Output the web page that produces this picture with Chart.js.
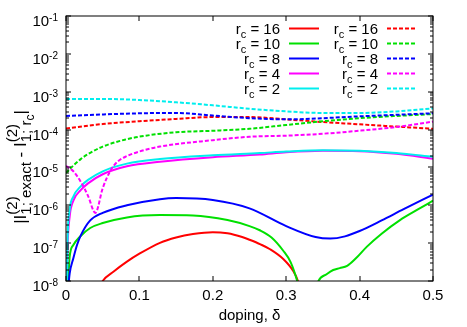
<!DOCTYPE html>
<html>
<head>
<meta charset="utf-8">
<script src="https://cdn.jsdelivr.net/npm/chart.js@4.4.1/dist/chart.umd.min.js"></script>
<style>
  html, body { margin: 0; padding: 0; background: #fff; }
  #wrap { width: 467px; height: 327px; }
</style>
</head>
<body>
<div id="wrap"><canvas id="chart" width="467" height="327"></canvas></div>
<script>
// values (doping vs |I_exact - I_rc|, log y)
const rcLabels = ["16", "10", "8", "4", "2"];
const lineColors = ["#ff0000", "#00e000", "#0000ff", "#ff00ff", "#00eeee"];
const xTicks = [0, 0.1, 0.2, 0.3, 0.4, 0.5];
const yTickExps = [-8, -7, -6, -5, -4, -3, -2, -1];

// solid curves
const rc16SolidX = [0.04, 0.05, 0.065, 0.083, 0.1, 0.128, 0.15, 0.173, 0.2, 0.22, 0.24, 0.25, 0.265, 0.278, 0.296, 0.31, 0.316, 0.325];
const rc16Solid = [3.98e-9, 1e-8, 1.78e-8, 3.24e-8, 5.25e-8, 1.02e-7, 1.41e-7, 1.74e-7, 1.95e-7, 1.82e-7, 1.45e-7, 1.23e-7, 9.3e-8, 6.9e-8, 3.8e-8, 1.78e-8, 1e-8, 2.5e-9];

const rc10SolidX = [0.002, 0.005, 0.01, 0.019, 0.033, 0.05, 0.083, 0.128, 0.173, 0.22, 0.25, 0.264, 0.28, 0.296, 0.306, 0.315, 0.325, 0.335, 0.344, 0.355, 0.364, 0.373, 0.383, 0.395, 0.41, 0.43, 0.455, 0.48, 0.5];
const rc10Solid = [3.98e-9, 4.37e-8, 8.9e-8, 1.48e-7, 2.51e-7, 3.39e-7, 4.79e-7, 5.5e-7, 5.37e-7, 4.07e-7, 2.82e-7, 2.19e-7, 1.41e-7, 6.3e-8, 3.16e-8, 1e-8, 1.6e-9, 2.5e-9, 1e-8, 1.51e-8, 1.95e-8, 2.19e-8, 2.51e-8, 3.98e-8, 8.1e-8, 1.78e-7, 4.07e-7, 7.9e-7, 1.32e-6];

const rc8SolidX = [0.002, 0.005, 0.01, 0.015, 0.02, 0.033, 0.05, 0.083, 0.128, 0.15, 0.2, 0.25, 0.3, 0.34, 0.36, 0.38, 0.4, 0.43, 0.46, 0.5];
const rc8Solid = [3.98e-9, 1.58e-8, 3.98e-8, 8.9e-8, 1.58e-7, 3.98e-7, 6.3e-7, 1e-6, 1.45e-6, 1.55e-6, 1.38e-6, 8.3e-7, 2.82e-7, 1.45e-7, 1.32e-7, 1.51e-7, 2.09e-7, 3.98e-7, 7.9e-7, 1.91e-6];

const rc4SolidX = [0.001, 0.002, 0.005, 0.01, 0.02, 0.03, 0.05, 0.083, 0.128, 0.2, 0.264, 0.3, 0.35, 0.4, 0.45, 0.5];
const rc4Solid = [3.98e-9, 6.3e-8, 5e-7, 1.32e-6, 2.51e-6, 3.8e-6, 6.6e-6, 1.07e-5, 1.41e-5, 1.86e-5, 2.19e-5, 2.51e-5, 2.75e-5, 2.69e-5, 2.29e-5, 1.7e-5];

const rc2SolidX = [0.001, 0.002, 0.005, 0.01, 0.02, 0.03, 0.05, 0.083, 0.128, 0.2, 0.264, 0.3, 0.35, 0.4, 0.45, 0.5];
const rc2Solid = [3.98e-9, 1e-7, 7.6e-7, 1.7e-6, 3.16e-6, 4.68e-6, 7.9e-6, 1.26e-5, 1.66e-5, 2.09e-5, 2.4e-5, 2.63e-5, 2.85e-5, 2.75e-5, 2.4e-5, 1.91e-5];

// dashed curves
const coarseX = [0, 0.05, 0.1, 0.15, 0.2, 0.25, 0.3, 0.35, 0.4, 0.45, 0.5];
const rc16Dashed = [1.07e-4, 1.4e-4, 1.66e-4, 1.91e-4, 2.14e-4, 2.14e-4, 1.86e-4, 1.58e-4, 1.38e-4, 1.2e-4, 1.05e-4];
const rc8Dashed = [2.29e-4, 2.51e-4, 2.69e-4, 2.75e-4, 2.34e-4, 2e-4, 1.86e-4, 2e-4, 2.24e-4, 2.45e-4, 2.69e-4];
const rc2Dashed = [6.46e-4, 6.46e-4, 6.03e-4, 5.25e-4, 4.37e-4, 3.55e-4, 3.02e-4, 2.75e-4, 2.75e-4, 3.02e-4, 3.63e-4];

const rc10DashedX = [0, 0.01, 0.02, 0.03, 0.05, 0.08, 0.1, 0.15, 0.2, 0.25, 0.3, 0.35, 0.4, 0.45, 0.5];
const rc10Dashed = [7.1e-6, 1.12e-5, 1.66e-5, 2.24e-5, 3.55e-5, 5.4e-5, 6.5e-5, 8.5e-5, 9.3e-5, 1.05e-4, 1.32e-4, 1.66e-4, 2e-4, 2.29e-4, 2.57e-4];

const rc4DashedX = [0, 0.01, 0.02, 0.03, 0.04, 0.05, 0.06, 0.07, 0.083, 0.1, 0.128, 0.2, 0.25, 0.3, 0.35, 0.4, 0.45, 0.5];
const rc4Dashed = [1.1e-5, 7.9e-6, 4.2e-6, 1.78e-6, 6.3e-7, 2.82e-6, 7.9e-6, 1.41e-5, 2e-5, 2.63e-5, 3.55e-5, 5.25e-5, 6.46e-5, 6.9e-5, 7.76e-5, 9.33e-5, 1.17e-4, 1.62e-4];

const DASH = [4, 2];
const FONT = '"Liberation Sans", Arial, sans-serif';
const font = px => px + "px " + FONT;

// gnuplot order: solid 16,10,8,4,2 then dashed 16,10,8,4,2 (later ones on top)
const series = [
  { xs: rc16SolidX, ys: rc16Solid, c: 0, dash: [] },
  { xs: rc10SolidX, ys: rc10Solid, c: 1, dash: [] },
  { xs: rc8SolidX, ys: rc8Solid, c: 2, dash: [] },
  { xs: rc4SolidX, ys: rc4Solid, c: 3, dash: [] },
  { xs: rc2SolidX, ys: rc2Solid, c: 4, dash: [] },
  { xs: coarseX, ys: rc16Dashed, c: 0, dash: DASH },
  { xs: rc10DashedX, ys: rc10Dashed, c: 1, dash: DASH },
  { xs: coarseX, ys: rc8Dashed, c: 2, dash: DASH },
  { xs: rc4DashedX, ys: rc4Dashed, c: 3, dash: DASH },
  { xs: coarseX, ys: rc2Dashed, c: 4, dash: DASH }
];

const datasets = series.map((s, i) => ({
  data: s.xs.map((x, k) => ({ x: x, y: s.ys[k] })),
  borderColor: lineColors[s.c],
  borderWidth: 2,
  borderDash: s.dash,
  pointRadius: 0,
  cubicInterpolationMode: "monotone",
  capBezierPoints: false,
  fill: false,
  clip: 0,
  order: 20 - i
}));

function drawYTitle(ctx, cx, cy) {
  ctx.save();
  ctx.translate(cx, cy);
  ctx.rotate(-Math.PI / 2);
  ctx.fillStyle = "#000";
  ctx.textAlign = "left";
  ctx.textBaseline = "alphabetic";
  const M = 17, S = 15, SS = 12;
  const w = (t, s) => { ctx.font = font(s); return ctx.measureText(t).width; };
  const w1 = w("|I", M);
  const st1 = Math.max(w("(2)", S), w("1; exact", S));
  const w2 = w(" - I", M);
  const st2 = Math.max(w("(2)", S), w("1; r", S) + w("c", SS));
  const w3 = w("|", M);
  let x = -(w1 + st1 + w2 + st2 + w3) / 2;
  const put = (t, s, dy, dx) => { ctx.font = font(s); ctx.fillText(t, x + (dx || 0), dy); };
  put("|I", M, 0); x += w1;
  put("(2)", S, -9); put("1; exact", S, 5); x += st1;
  put(" - I", M, 0); x += w2;
  put("(2)", S, -9); put("1; r", S, 5); put("c", SS, 8, w("1; r", S)); x += st2;
  put("|", M, 0);
  ctx.restore();
}

const decorPlugin = {
  id: "decor",
  afterDatasetsDraw(chart) {
    const ctx = chart.ctx, a = chart.chartArea;
    const xs = chart.scales.x, ys = chart.scales.y;
    ctx.save();
    // frame and ticks (mirrored, pointing inward)
    ctx.strokeStyle = "#000";
    ctx.lineWidth = 1;
    ctx.setLineDash([]);
    ctx.strokeRect(a.left, a.top, a.right - a.left, a.bottom - a.top);
    ctx.beginPath();
    xTicks.forEach(v => {
      const px = Math.round(xs.getPixelForValue(v));
      ctx.moveTo(px, a.bottom); ctx.lineTo(px, a.bottom - 5);
      ctx.moveTo(px, a.top); ctx.lineTo(px, a.top + 5);
    });
    yTickExps.forEach(e => {
      const py = Math.round(ys.getPixelForValue(Math.pow(10, e)));
      ctx.moveTo(a.left, py); ctx.lineTo(a.left + 5, py);
      ctx.moveTo(a.right, py); ctx.lineTo(a.right - 5, py);
      if (e < -1) {
        for (let m = 2; m <= 9; m++) {
          const pm = Math.round(ys.getPixelForValue(m * Math.pow(10, e)));
          ctx.moveTo(a.left, pm); ctx.lineTo(a.left + 3, pm);
          ctx.moveTo(a.right, pm); ctx.lineTo(a.right - 3, pm);
        }
      }
    });
    ctx.stroke();

    ctx.fillStyle = "#000";
    ctx.textBaseline = "alphabetic";
    // y tick labels 10^e
    yTickExps.forEach(e => {
      const py = ys.getPixelForValue(Math.pow(10, e));
      const sup = String(e);
      ctx.font = font(10);
      const sw = ctx.measureText(sup).width;
      ctx.textAlign = "left";
      ctx.fillText(sup, a.left - 8 - sw, py + 5);
      ctx.font = font(15);
      ctx.textAlign = "right";
      ctx.fillText("10", a.left - 8 - sw, py + 10);
    });
    // x tick labels
    ctx.font = font(15);
    ctx.textAlign = "center";
    xTicks.forEach(v => {
      ctx.fillText(String(v), xs.getPixelForValue(v), a.bottom + 19);
    });
    ctx.fillText("doping, \u03b4", (a.left + a.right) / 2, a.bottom + 39);

    // key: two columns, solid then dashed
    const cols = [{ right: 280, x0: 289, x1: 319, dash: [] }, { right: 378, x0: 387, x1: 417, dash: DASH }];
    rcLabels.forEach((lab, i) => {
      const yy = 28.5 + i * 15;
      cols.forEach(col => {
        ctx.font = font(15);
        const wr = ctx.measureText("r").width;
        const rest = " = " + lab;
        const wrest = ctx.measureText(rest).width;
        ctx.font = font(11);
        const wc = ctx.measureText("c").width;
        let x = col.right - (wr + wc + wrest);
        ctx.textAlign = "left";
        ctx.font = font(15);
        ctx.fillText("r", x, yy + 5);
        ctx.font = font(11);
        ctx.fillText("c", x + wr, yy + 9);
        ctx.font = font(15);
        ctx.fillText(rest, x + wr + wc, yy + 5);
        ctx.strokeStyle = lineColors[i];
        ctx.lineWidth = 2;
        ctx.setLineDash(col.dash);
        ctx.beginPath();
        ctx.moveTo(col.x0, yy); ctx.lineTo(col.x1, yy);
        ctx.stroke();
        ctx.setLineDash([]);
      });
    });

    drawYTitle(ctx, 26, 167);
    ctx.restore();
  }
};

new Chart(document.getElementById("chart"), {
  type: "line",
  data: { datasets: datasets },
  options: {
    responsive: false,
    maintainAspectRatio: false,
    animation: false,
    layout: { padding: { left: 66, top: 16, right: 34, bottom: 46 } },
    plugins: { legend: { display: false }, tooltip: { enabled: false } },
    scales: {
      x: { type: "linear", min: 0, max: 0.5, display: false },
      y: { type: "logarithmic", min: 1e-8, max: 1e-1, display: false }
    }
  },
  plugins: [decorPlugin]
});
</script>
</body>
</html>
